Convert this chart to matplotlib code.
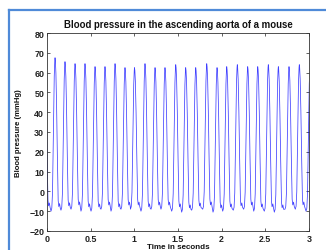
import matplotlib
matplotlib.use("Agg")
import matplotlib.pyplot as plt
from matplotlib.lines import Line2D

plt.rcParams["font.family"] = ["Liberation Sans", "DejaVu Sans"]

# ---- data ----
peak_times = [-0.025, 0.092, 0.206, 0.321, 0.435, 0.550, 0.664, 0.779, 0.893, 1.002,
              1.122, 1.237, 1.351, 1.474, 1.588, 1.703, 1.829, 1.947, 2.058, 2.179,
              2.298, 2.413, 2.534, 2.649, 2.771, 2.889, 3.012]
peak_values = [64.0, 67.5, 65.5, 64.5, 64.5, 63.0, 63.0, 64.5, 62.5, 62.5,
               64.5, 62.5, 62.5, 64.0, 62.5, 62.5, 64.5, 62.5, 63.0, 64.0,
               63.0, 63.0, 64.0, 63.0, 63.0, 64.0, 63.0]
trough_values = [-9.5, -10.0, -9.5, -9.0, -10.0, -10.0, -9.0, -10.0, -9.0, -9.0,
                 -10.0, -9.0, -9.0, -10.0, -10.5, -9.5, -9.0, -10.5, -10.0, -9.5,
                 -9.0, -10.0, -10.0, -10.5, -9.0, -9.0, -10.0]
# shape of one beat: offset from peak (s) and fraction of trough->peak
beat_offsets = [-0.046, -0.037, -0.029, -0.019, -0.009, -0.003, 0.0, 0.004, 0.010,
                0.018, 0.027, 0.036, 0.043, 0.052, 0.060]
beat_fracs = [0.0, 0.02, 0.12, 0.5, 0.88, 0.98, 1.0, 0.98, 0.9,
              0.68, 0.35, 0.07, 0.03, 0.05, 0.02]

x_ticks = [0, 0.5, 1, 1.5, 2, 2.5, 3]
x_tick_labels = ["0", "0.5", "1", "1.5", "2", "2.5", "3"]
y_ticks = [-20, -10, 0, 10, 20, 30, 40, 50, 60, 70, 80]

title = "Blood pressure in the ascending aorta of a mouse"
xlabel = "Time in seconds"
ylabel = "Blood pressure (mmHg)"

# ---- build trace from beats ----
t_pts, p_pts = [], []
for pt, pv, tv in zip(peak_times, peak_values, trough_values):
    for off, fr in zip(beat_offsets, beat_fracs):
        t_pts.append(pt + off)
        p_pts.append(tv + fr * (pv - tv))

W, H = 326, 251
fig = plt.figure(figsize=(W / 100, H / 100), dpi=100)
fig.patch.set_facecolor("white")

ax = fig.add_axes([47 / W, 1 - 232 / H, (309 - 47) / W, (232 - 34) / H])
ax.plot(t_pts, p_pts, color="#0000ff", lw=0.55, alpha=0.75)
ax.set_xlim(0, 3)
ax.set_ylim(-20, 80)
ax.set_xticks(x_ticks)
ax.set_xticklabels(x_tick_labels)
ax.set_yticks(y_ticks)
ax.tick_params(direction="in", length=2.5, width=0.5, top=True, right=True,
               labelsize=6.4, pad=2, colors="#222222")
for lab in ax.get_xticklabels() + ax.get_yticklabels():
    lab.set_fontweight("bold")
for s in ax.spines.values():
    s.set_linewidth(0.6)
    s.set_color("#333333")

ax.set_title(title, fontsize=6.9, fontweight="bold", pad=4, color="#111111")
ax.set_xlabel(xlabel, fontsize=5.8, fontweight="bold", labelpad=0, color="#111111")
ax.set_ylabel(ylabel, fontsize=5.6, fontweight="bold", labelpad=5, color="#111111")

# screenshot frame (blue border)
bx = 8.5 / W
by = 1 - 11 / H
fig.add_artist(Line2D([bx, bx], [0, by], transform=fig.transFigure,
                      color="#4f8ad8", lw=1.6))
fig.add_artist(Line2D([bx, 1], [by, by], transform=fig.transFigure,
                      color="#4f8ad8", lw=1.6))

fig.savefig("out.png", dpi=100)
